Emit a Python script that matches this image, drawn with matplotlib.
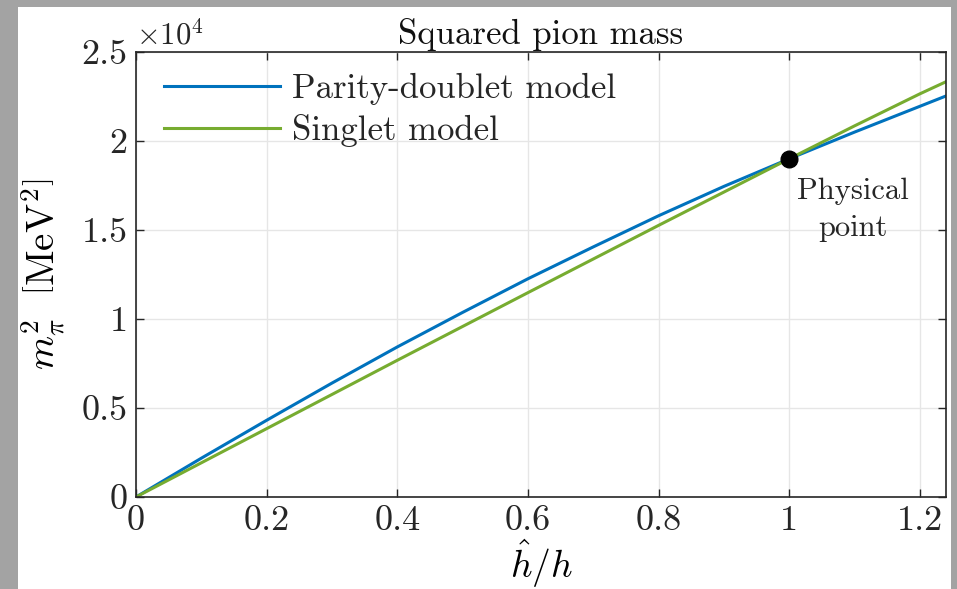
import numpy as np
import matplotlib.pyplot as plt
from matplotlib.patches import Rectangle
from matplotlib.ticker import FuncFormatter

plt.rcParams['font.family'] = 'serif'
plt.rcParams['font.serif'] = ['cmr10']
plt.rcParams['mathtext.fontset'] = 'cm'
plt.rcParams['axes.unicode_minus'] = False

# values
h_ratio = [0.0, 0.1, 0.2, 0.3, 0.4, 0.5, 0.6, 0.7, 0.8, 0.9, 1.0, 1.1, 1.2, 1.24]
doublet = [0, 2180, 4310, 6400, 8430, 10370, 12260, 14050, 15800, 17450, 19000, 20500, 21950, 22530]
singlet = [0, 1920, 3840, 5760, 7680, 9580, 11480, 13370, 15260, 17130, 19000, 20850, 22650, 23330]
phys_x = 1.0
phys_y = 19000
series_names = ['Parity-doublet model', 'Singlet model']

fig = plt.figure(figsize=(9.57, 5.89), dpi=100, facecolor='#a3a3a3')
fig.patches.append(Rectangle((18 / 957, 0), 933 / 957, 582 / 589,
                             transform=fig.transFigure, facecolor='white',
                             edgecolor='none', zorder=-1))
ax = fig.add_axes([0.1421, 0.1562, 0.8464, 0.7555])

ax.plot(h_ratio, doublet, color='#0072BD', lw=2.2, label=series_names[0])
ax.plot(h_ratio, singlet, color='#77AC30', lw=2.2, label=series_names[1])
ax.plot(phys_x, phys_y, 'o', color='black', ms=12, zorder=5)
ax.text(1.098, 16150, 'Physical\npoint', ha='center', va='center',
        fontsize=22, linespacing=1.45, color='#262626')

ax.set_xlim(0, 1.24)
ax.set_ylim(0, 25000)
ax.set_xticks([0, 0.2, 0.4, 0.6, 0.8, 1.0, 1.2])
ax.set_xticklabels(['0', '0.2', '0.4', '0.6', '0.8', '1', '1.2'])
ax.set_yticks([0, 5000, 10000, 15000, 20000, 25000])
ax.yaxis.set_major_formatter(FuncFormatter(lambda v, p: '%g' % (v / 1e4)))
ax.tick_params(direction='in', top=True, right=True, labelsize=26,
               length=6, width=1, colors='#262626', pad=6)
ax.grid(True, color='#e6e6e6', lw=1)
ax.set_axisbelow(True)
for s in ax.spines.values():
    s.set_color('#262626')
    s.set_linewidth(1.2)

ax.text(0.0, 1.005, r'$\times10^4$', transform=ax.transAxes, fontsize=22,
        color='#262626', va='bottom', ha='left')
ax.set_title('Squared pion mass', fontsize=25, color='#111111', pad=6)
ax.set_xlabel(r'$\hat{h}/h$', fontsize=27, labelpad=0)
ax.set_ylabel(r'$m_\pi^2\ \ \left[\mathrm{MeV}^2\right]$', fontsize=28, labelpad=10)

leg = ax.legend(loc='upper left', frameon=False, fontsize=25,
                handlelength=3.35, handletextpad=0.32, labelspacing=0.25,
                borderaxespad=0.2, bbox_to_anchor=(0.009, 1.0))
for t in leg.get_texts():
    t.set_color('#262626')

fig.savefig('out.png', dpi=100, facecolor=fig.get_facecolor())
